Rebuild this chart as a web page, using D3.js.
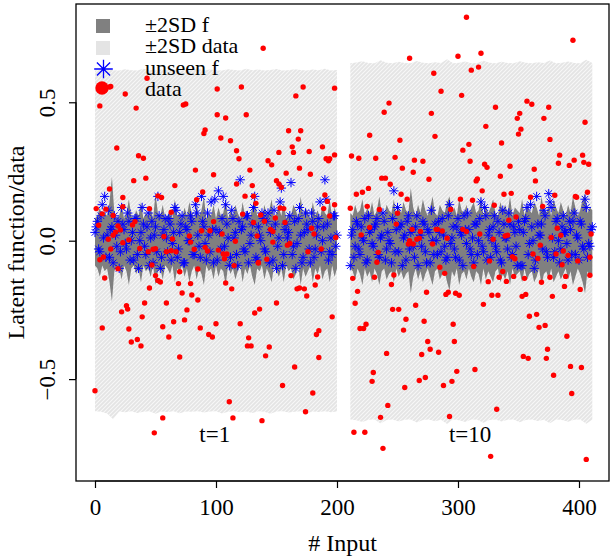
<!DOCTYPE html>
<html>
<head>
<meta charset="utf-8">
<script src="https://cdn.jsdelivr.net/npm/d3@7.9.0/dist/d3.min.js"></script>
<style>
  html, body { margin: 0; padding: 0; background: #fff; }
  svg text { font-family: "Liberation Serif", "Times New Roman", "DejaVu Serif", serif; fill: #000; }
</style>
</head>
<body>
<svg id="chart" width="612" height="558"></svg>
<script>
// ---- data ----
// two blocks of inputs: t=1 and t=10
const t1Start = 0, t10Start = 211;

// +/-2SD of the data (light band), every 5 inputs, in thousandths
const t1SdUp  = [615,617,622,616,615,619,616,615,621,617,615,618,616,620,615,617,616,622,615,618,616,615,619,617,615,621,616,618,615,617,620,615,616,619,617,615,618,616,621,615,617];
const t1SdLo  = [-616,-618,-624,-645,-617,-620,-616,-622,-618,-616,-625,-617,-619,-616,-623,-617,-618,-616,-621,-617,-616,-624,-618,-616,-620,-617,-622,-616,-618,-625,-617,-616,-621,-618,-616,-623,-617,-619,-616,-620,-617];
const t10SdUp = [641,644,648,642,641,652,643,641,646,642,641,649,643,641,645,642,655,641,643,647,641,642,650,643,641,646,642,641,648,643,641,645,642,651,641,643,647,642,641,654,642];
const t10SdLo = [-646,-649,-655,-647,-646,-660,-648,-646,-653,-647,-646,-657,-648,-646,-652,-647,-662,-646,-649,-655,-646,-647,-658,-648,-646,-653,-647,-646,-656,-648,-646,-651,-647,-659,-646,-648,-654,-647,-646,-661,-647];

// +/-2SD of f (dark band), every 2 inputs, in hundredths
const t1FUp  = [8,9,12,8,10,9,14,23,10,8,9,13,8,10,15,9,8,11,9,14,8,10,9,12,8,17,10,9,13,8,9,11,8,15,9,10,8,12,9,14,10,8,13,9,11,16,8,10,9,13,8,12,9,10,15,8,11,9,13,10,8,14,9,11,8,12,16,9,10,8,13,9,11,15,8,10,12,9,14,8,10,9,13,11,8,16,9,12,10,8,14,9,11,8,13,10,9,15,8,12,9];
const t1FLo  = [-9,-10,-13,-9,-11,-10,-15,-22,-11,-9,-10,-14,-9,-11,-16,-10,-9,-12,-10,-15,-9,-11,-10,-13,-9,-16,-11,-10,-14,-9,-10,-12,-9,-15,-10,-11,-9,-13,-10,-15,-11,-9,-14,-10,-12,-16,-9,-11,-10,-14,-9,-13,-10,-11,-16,-9,-12,-10,-14,-11,-9,-15,-10,-12,-9,-13,-16,-10,-11,-9,-14,-10,-12,-15,-9,-11,-13,-10,-15,-9,-11,-10,-14,-12,-9,-16,-10,-13,-11,-9,-15,-10,-12,-9,-14,-11,-10,-15,-9,-13,-10];
const t10FUp = [10,9,13,10,11,15,9,12,10,14,9,11,16,10,9,13,11,10,15,9,12,10,14,11,10,19,12,9,13,10,15,11,9,12,16,10,9,13,11,10,14,16,10,12,9,15,11,10,13,9,12,14,10,11,16,9,13,10,12,15,10,9,14,11,13,10,16,9,12,11,10,15,9,13,11,10,14,12,9,16,11,10,13,9,15,12,10,14,11,9,13,10,16,12,9,11,15,17,10,12,11];
const t10FLo = [-10,-11,-14,-10,-12,-16,-10,-13,-11,-15,-10,-12,-16,-11,-10,-14,-12,-11,-15,-10,-13,-11,-14,-12,-11,-19,-13,-10,-14,-11,-15,-12,-10,-13,-16,-11,-10,-14,-12,-11,-15,-18,-11,-13,-10,-16,-12,-11,-14,-10,-13,-15,-11,-12,-16,-10,-14,-11,-13,-15,-11,-10,-15,-12,-14,-11,-16,-10,-13,-12,-11,-15,-10,-14,-12,-11,-15,-13,-10,-16,-12,-11,-14,-10,-15,-13,-11,-14,-12,-10,-14,-11,-16,-13,-10,-12,-15,-19,-11,-13,-12];

// unseen f (blue stars), in hundredths: even inputs and odd inputs of each block
const t1Star     = [3,7,-4,13,16,2,-6,5,9,-2,-10,12,4,-3,7,0,-7,8,-10,3,6,-5,10,1,-8,5,16,-10,2,8,-4,6,-1,12,-6,3,9,-8,4,0,7,-5,10,-2,16,5,-7,2,14,-8,4,18,-3,16,13,1,-6,8,3,-9,22,5,-4,9,-1,6,16,-7,2,10,-3,7,-8,4,11,-10,1,19,-5,6,3,21,-2,-10,8,2,-6,10,4,-8,7,-3,5,14,0,22,6,-4,-5,9,2];
const t1StarOdd  = [5,-3,9,1,-6,11,4,-8,2,7,-4,6,-1,10,-7,3,8,-5,0,12,-2,5,-9,7,2,-4,9,-6,4,1,8,-7,3,11,-3,6,-8,5,0,9,-5,13,2,-6,7,-1,10,-4,4,15,-7,3,8,-2,6,-9,11,1,-5,7,4,-3,9,-8,2,12,-6,5,0,8,-4,10,3,-7,6,-2,14,-9,4,1,9,-5,7,-1,12,-8,3,6,-3,10,-6,2,8,-4,5,15,-7,1,9,-2];
const t10Star    = [-9,4,-2,6,-5,1,8,-7,3,-1,5,8,-6,2,7,-3,0,-8,18,4,-4,6,1,-7,9,3,-2,5,-9,2,7,-4,4,-8,0,6,-5,3,8,-2,-6,13,1,-3,5,-7,2,9,-1,4,-5,-8,6,0,14,-4,9,2,-6,5,-2,7,-7,11,1,-3,6,-5,3,-9,4,-9,7,12,-1,5,-10,16,2,6,11,-4,17,12,-6,7,0,-3,9,3,-7,4,7,-5,1,7,-2,15,-6,-2,5];
const t10StarOdd = [2,-6,7,-3,5,0,-8,9,4,-2,6,-5,1,10,-7,3,-1,8,-4,12,5,-9,2,7,-3,4,-6,9,1,-2,6,-8,3,11,-5,0,7,-4,2,-7,9,-1,5,-6,8,3,-9,4,10,-3,1,6,-5,8,-2,12,-7,4,0,9,-4,3,-8,6,1,10,-6,5,-2,7,-9,3,8,-5,13,0,-7,6,2,-3,9,-6,14,1,-4,8,-8,5,3,-1,7,-5,10,2,-7,6,-3,12,-1,4];

// observed data (red points): input and value
const t1DataX = [139,43,25,4,101,121,172,198,166,73,75,34,101,108,125,91,90,160,170,104,112,168,18,163,188,117,164,177,152,198,36,40,191,193,194,119,143,146,169,83,128,98,158,178,42,32,150,152,154,117,130,66,12,89,52,55,124,23,84,190,192,198,1,45,153,156,189,6,15,12,13,
  9,23,19,21,17,15,3,11,23,13,28,31,33,37,44,48,50,47,63,59,63,67,57,64,70,78,79,82,88,95,91,93,98,102,122,137,131,140,149,157,145,147,134,105,116,147,159,161,106,109,107,135,142,179,181,176,187,194,199,133,131,
  4,7,19,8,50,52,54,45,69,79,85,72,80,85,115,108,113,135,162,184,182,167,169,173,175,26,27,22,41,59,76,39,74,65,150,136,132,120,100,56,6,28,87,196,185,183,94,97,61,35,30,38,127,126,129,144,141,70,185,165,0,155,180,111,174,56,114,138,49];
const t1DataY = [0.695,0.587,0.53,0.487,0.548,0.555,0.555,0.551,0.523,0.49,0.494,0.479,0.455,0.443,0.455,0.40,0.387,0.397,0.397,0.371,0.361,0.367,0.335,0.339,0.339,0.325,0.319,0.322,0.319,0.31,0.307,0.298,0.296,0.289,0.296,0.296,0.289,0.274,0.262,0.255,0.255,0.238,0.244,0.24,0.226,0.217,0.217,0.205,0.193,0.205,0.199,0.199,0.187,0.176,0.162,0.156,0.161,0.156,0.148,0.165,0.142,0.13,0.116,0.116,0.118,0.116,0.116,0.097,0.091,0.555,0.557,
  0.114,0.123,0.053,0.039,0.031,0.02,0.056,0.005,-0.007,-0.03,0.003,0.057,0.069,-0.028,-0.04,-0.031,-0.029,-0.088,0.103,-0.04,-0.036,-0.04,0.015,0.006,-0.112,0.017,-0.005,-0.031,0.036,0.036,-0.024,-0.037,0.069,-0.034,0.096,0.093,0.066,0.07,0.082,0.066,0.041,0.033,0.017,0.024,-0.002,-0.005,-0.016,-0.01,-0.048,-0.048,-0.065,-0.079,-0.067,0.045,0.024,-0.04,-0.03,0.089,0.012,0.135,0.161,
  -0.069,-0.059,-0.101,-0.135,-0.126,-0.144,-0.149,-0.171,-0.155,-0.155,-0.102,-0.189,-0.196,-0.214,-0.09,-0.153,-0.174,-0.081,-0.126,-0.131,-0.16,-0.174,-0.171,-0.174,-0.2,-0.235,-0.247,-0.257,-0.225,-0.225,-0.25,-0.275,-0.286,-0.293,-0.225,-0.247,-0.261,-0.30,-0.30,-0.311,-0.315,-0.319,-0.315,-0.275,-0.325,-0.339,-0.339,-0.348,-0.348,-0.357,-0.366,-0.38,-0.351,-0.38,-0.38,-0.384,-0.416,-0.42,-0.422,-0.456,-0.542,-0.523,-0.55,-0.582,-0.618,-0.64,-0.64,-0.65,-0.694];

const t10DataX = [307,395,260,300,319,311,317,280,286,303,243,239,278,331,357,361,375,351,349,371,405,323,352,350,227,281,252,376,336,309,304,212,218,232,248,264,271,310,384,403,383,392,396,404,408,322,324,343,254,363,263,237,240,276,315,316,335,364,244,226,216,221,253,320,338,344,360,380,397,398,407,258,302,312,211,225,235,330,370,294,250,
  348,342,382,318,329,339,341,377,385,368,410,362,366,345,347,326,381,387,391,376,409,227,220,249,262,269,282,283,287,260,266,268,259,263,279,291,304,307,
  213,217,215,231,247,245,246,251,219,222,224,257,255,265,274,285,289,290,292,298,301,272,296,275,277,270,284,297,241,230,229,256,268,273,288,295,299,314,242,236,293,332,214,223,238,327,406,313,325,321,328,333,334,337,340,346,353,356,355,369,378,359,365,367,372,374,373,354,358,379,390,393,402,394,388,389,401,409,386,399,234,233];
const t10DataY = [0.807,0.724,0.659,0.666,0.677,0.616,0.627,0.605,0.54,0.525,0.497,0.464,0.46,0.482,0.504,0.493,0.482,0.46,0.442,0.442,0.428,0.413,0.403,0.385,0.381,0.377,0.363,0.366,0.353,0.348,0.327,0.306,0.298,0.298,0.301,0.291,0.287,0.287,0.309,0.309,0.28,0.272,0.291,0.283,0.276,0.276,0.265,0.269,0.262,0.258,0.247,0.226,0.226,0.222,0.216,0.223,0.233,0.216,0.204,0.189,0.168,0.175,0.168,0.18,0.168,0.171,0.157,0.164,0.16,0.157,0.175,0.15,0.15,0.146,0.117,0.124,0.113,0.128,0.124,0.113,0.099,
  0.086,0.074,0.045,0.024,0.005,0.017,0.02,0.012,0.02,-0.016,0.024,-0.048,-0.064,-0.058,-0.065,-0.073,-0.048,-0.037,-0.053,-0.132,-0.06,0.048,0.021,0.06,0.041,0.033,0.041,0.041,0.035,0,0.005,0.009,-0.012,-0.012,-0.012,0.009,0.041,0.033,
  -0.136,-0.183,-0.226,-0.132,-0.124,-0.158,-0.248,-0.248,-0.317,-0.317,-0.302,-0.284,-0.323,-0.233,-0.186,-0.096,-0.118,-0.194,-0.186,-0.19,-0.197,-0.291,-0.302,-0.364,-0.392,-0.411,-0.403,-0.364,-0.407,-0.476,-0.508,-0.53,-0.505,-0.494,-0.523,-0.508,-0.472,-0.465,-0.595,-0.638,-0.635,-0.609,-0.692,-0.692,-0.75,-0.779,-0.79,-0.093,-0.148,-0.23,-0.197,-0.197,-0.132,-0.111,-0.147,-0.129,-0.201,-0.194,-0.136,-0.15,-0.201,-0.273,-0.266,-0.313,-0.306,-0.392,-0.425,-0.418,-0.425,-0.486,-0.345,-0.454,-0.458,-0.552,-0.165,-0.129,-0.176,-0.125,-0.087,-0.073,-0.042,-0.078];

const xTicks = [0, 100, 200, 300, 400];
const yTicks = [-0.5, 0.0, 0.5];
const legendLabels = ["\u00b12SD f", "\u00b12SD data", "unseen f", "data"];
const blockLabels = [{ text: "t=1", x: 99, y: -0.726 }, { text: "t=10", x: 310, y: -0.726 }];

// ---- layout ----
const box = { left: 76, right: 609, top: 4, bottom: 481 };
const x = d3.scaleLinear().domain([-15.7, 424.8]).range([box.left, box.right]);
const y = d3.scaleLinear().domain([-0.868, 0.855]).range([box.bottom, box.top]);
const FONT = '"Liberation Serif", "Times New Roman", "DejaVu Serif", serif';

const svg = d3.select('#chart');

// hatch for the light band
const defs = svg.append('defs');
const pat = defs.append('pattern').attr('id', 'hatch')
  .attr('patternUnits', 'userSpaceOnUse').attr('width', 4).attr('height', 4);
pat.append('rect').attr('width', 4).attr('height', 4).attr('fill', '#e4e4e4');
pat.append('path').attr('d', 'M-1,1 L1,-1 M0,4 L4,0 M3,5 L5,3')
  .attr('stroke', '#f7f7f7').attr('stroke-width', 1.1);

// turn a series into [input, value] pairs
const pairs = (vals, start, step, scale) => vals.map((v, i) => [start + i * step, v / scale]);

function band(up, lo, fill) {
  const area = d3.area().x(d => x(d[0])).y0(d => y(d[2])).y1(d => y(d[1]));
  const pts = up.map((d, i) => [d[0], d[1], lo[i][1]]);
  svg.append('path').attr('d', area(pts)).attr('fill', fill);
}

// light band
band(pairs(t1SdUp, t1Start, 5, 1000), pairs(t1SdLo, t1Start, 5, 1000), 'url(#hatch)');
band(pairs(t10SdUp, t10Start, 5, 1000), pairs(t10SdLo, t10Start, 5, 1000), 'url(#hatch)');
// dark band
band(pairs(t1FUp, t1Start, 2, 100), pairs(t1FLo, t1Start, 2, 100), '#808080');
band(pairs(t10FUp, t10Start, 2, 100), pairs(t10FLo, t10Start, 2, 100), '#808080');

// asterisk (R pch 8)
function star(s) {
  const k = s * 0.7071;
  return `M${-s},0H${s}M0,${-s}V${s}M${-k},${-k}L${k},${k}M${-k},${k}L${k},${-k}`;
}

const stars = pairs(t1Star, t1Start, 2, 100)
  .concat(pairs(t1StarOdd, t1Start + 1, 2, 100))
  .concat(pairs(t10Star, t10Start, 2, 100))
  .concat(pairs(t10StarOdd, t10Start + 1, 2, 100));
svg.append('g').selectAll('path').data(stars).join('path')
  .attr('transform', d => `translate(${x(d[0])},${y(d[1])})`)
  .attr('d', star(4.7))
  .attr('fill', 'none').attr('stroke', '#0000ff').attr('stroke-width', 1);

const obs = t1DataX.map((v, i) => [v, t1DataY[i]])
  .concat(t10DataX.map((v, i) => [v, t10DataY[i]]));
svg.append('g').selectAll('circle').data(obs).join('circle')
  .attr('cx', d => x(d[0])).attr('cy', d => y(d[1])).attr('r', 2.7)
  .attr('fill', '#ff0000');

// block labels
svg.selectAll('.blk').data(blockLabels).join('text').attr('class', 'blk')
  .attr('x', d => x(d.x)).attr('y', d => y(d.y))
  .attr('text-anchor', 'middle').attr('font-family', FONT).style('font-size', '23px')
  .text(d => d.text);

// axes
const xAxis = svg.append('g').attr('transform', `translate(0,${box.bottom})`)
  .call(d3.axisBottom(x).tickValues(xTicks).tickSize(7).tickFormat(d3.format('d')));
xAxis.attr('font-family', FONT);
xAxis.select('.domain').remove();
xAxis.selectAll('line').attr('stroke', '#000').attr('stroke-width', 1.2);
xAxis.selectAll('text').attr('y', 34).attr('dy', null)
  .style('font-size', '23px').attr('font-family', FONT);

const yAxis = svg.append('g').attr('transform', `translate(${box.left},0)`)
  .call(d3.axisLeft(y).tickValues(yTicks).tickSize(7).tickFormat(d3.format('.1f')));
yAxis.attr('font-family', FONT);
yAxis.select('.domain').remove();
yAxis.selectAll('line').attr('stroke', '#000').attr('stroke-width', 1.2);
yAxis.selectAll('text').attr('transform', 'rotate(-90)')
  .attr('x', 0).attr('y', -21.5).attr('dy', null)
  .attr('text-anchor', 'middle').style('font-size', '23px').attr('font-family', FONT);

svg.append('path')
  .attr('d', `M${x(0)},${box.bottom}H${x(400)}M${box.left},${y(-0.5)}V${y(0.5)}`)
  .attr('stroke', '#000').attr('stroke-width', 1.2);

svg.append('rect')
  .attr('x', box.left).attr('y', box.top)
  .attr('width', box.right - box.left).attr('height', box.bottom - box.top)
  .attr('fill', 'none').attr('stroke', '#000').attr('stroke-width', 1.3);

svg.append('text').attr('x', (box.left + box.right) / 2).attr('y', 551)
  .attr('text-anchor', 'middle').attr('font-family', FONT).style('font-size', '24px').text('# Input');
svg.append('text').attr('transform', `translate(24,${(box.top + box.bottom) / 2}) rotate(-90)`)
  .attr('text-anchor', 'middle').attr('font-family', FONT).style('font-size', '24px').text('Latent function/data');

// legend
const lg = svg.append('g');
lg.append('rect').attr('x', 96).attr('y', 19).attr('width', 14).attr('height', 14).attr('fill', '#808080');
lg.append('rect').attr('x', 96).attr('y', 41).attr('width', 14).attr('height', 14).attr('fill', '#e4e4e4');
lg.append('path').attr('transform', 'translate(103.5,69)').attr('d', star(9.3))
  .attr('fill', 'none').attr('stroke', '#0000ff').attr('stroke-width', 1.3);
lg.append('circle').attr('cx', 102).attr('cy', 88).attr('r', 6.7).attr('fill', '#ff0000');
lg.selectAll('text').data(legendLabels).join('text')
  .attr('x', 145).attr('y', (d, i) => 32 + i * 21.3)
  .attr('font-family', FONT).style('font-size', '22px').text(d => d);
</script>
</body>
</html>
